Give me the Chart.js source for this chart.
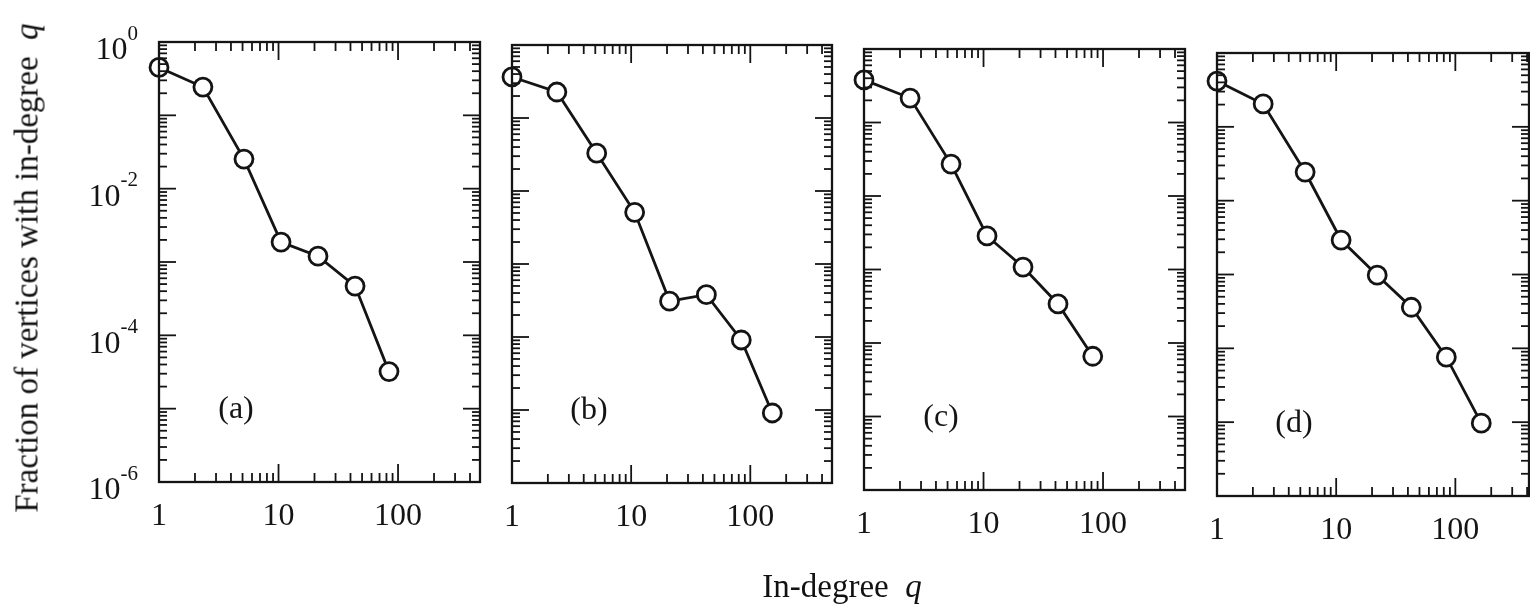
<!DOCTYPE html>
<html>
<head>
<meta charset="utf-8">
<script src="https://cdn.jsdelivr.net/npm/chart.js@4.4.1/dist/chart.umd.min.js"></script>
<style>
html,body{margin:0;padding:0;background:#fff;width:1530px;height:610px;overflow:hidden;}
canvas{position:absolute;left:0;top:0;}
.ytitle{position:absolute;left:27px;top:268px;transform:translate(-50%,-50%) rotate(-90deg);font:33px "Liberation Serif",serif;color:#111;white-space:nowrap;}
.xtitle{position:absolute;left:842px;top:586px;transform:translate(-50%,-50%);font:33px "Liberation Serif",serif;color:#111;white-space:nowrap;}
</style>
</head>
<body>
<canvas id="pa" width="1530" height="610"></canvas>
<canvas id="pb" width="1530" height="610"></canvas>
<canvas id="pc" width="1530" height="610"></canvas>
<canvas id="pd" width="1530" height="610"></canvas>
<div class="ytitle">Fraction of vertices with in-degree&nbsp;&nbsp;<i>q</i></div>
<div class="xtitle">In-degree&nbsp;&nbsp;<i>q</i></div>
<script>
// ---- data ----
const panelLabels = ['(a)', '(b)', '(c)', '(d)'];

const degreesA   = [1, 2.33, 5.14, 10.5, 21.4, 43.7, 84];
const fractionsA = [0.45, 0.243, 0.0253, 1.87e-3, 1.2e-3, 4.7e-4, 3.2e-5];

const degreesB   = [1, 2.38, 5.14, 10.7, 21, 42.8, 84, 153];
const fractionsB = [0.365, 0.227, 0.033, 5.1e-3, 3.1e-4, 3.8e-4, 9.1e-5, 9.1e-6];

const degreesC   = [1, 2.43, 5.35, 10.7, 21.4, 42, 82];
const fractionsC = [0.38, 0.215, 0.0272, 2.86e-3, 1.08e-3, 3.4e-4, 6.6e-5];

const degreesD   = [1, 2.44, 5.49, 11, 22.1, 42.7, 84, 165];
const fractionsD = [0.417, 0.204, 0.0244, 2.93e-3, 9.8e-4, 3.6e-4, 7.6e-5, 9.7e-6];

const xTickValues = [1, 10, 100];
const xTickLabels = ['1', '10', '100'];
const yTickExponents = [0, -2, -4, -6];   // labels 10^0, 10^-2, 10^-4, 10^-6

// ---- layout (pixel boxes of each panel frame) ----
const W = 1530, H = 610;
const boxes = [
  {left:159,  top:42, right:480,  bottom:482, xmax:485},
  {left:512,  top:45, right:832,  bottom:483, xmax:485},
  {left:864,  top:49, right:1185, bottom:490, xmax:485},
  {left:1217, top:53, right:1529, bottom:496, xmax:415}
];
const series = [[degreesA, fractionsA], [degreesB, fractionsB], [degreesC, fractionsC], [degreesD, fractionsD]];
const ids = ['pa', 'pb', 'pc', 'pd'];
const INK = '#141414';
const FONT = '"Liberation Serif", serif';

function axesPlugin(idx, xmax) {
  return {
    id: 'frameTicks' + idx,
    afterDraw(chart) {
      const ctx = chart.ctx, xs = chart.scales.x, ys = chart.scales.y, a = chart.chartArea;
      ctx.save();
      ctx.strokeStyle = INK;
      ctx.lineCap = 'butt';
      // frame
      ctx.lineWidth = 2.3;
      ctx.strokeRect(a.left, a.top, a.right - a.left, a.bottom - a.top);
      ctx.lineWidth = 1.8;
      const seg = (x1, y1, x2, y2) => { ctx.beginPath(); ctx.moveTo(x1, y1); ctx.lineTo(x2, y2); ctx.stroke(); };
      // x ticks (bottom & top, inward)
      for (let d = 0; d <= 3; d++) {
        for (let k = 1; k <= 9; k++) {
          const v = k * Math.pow(10, d);
          if (v <= 1.0001 || v >= xmax) continue;
          const px = xs.getPixelForValue(v);
          const len = k === 1 ? 18 : 9;
          seg(px, a.bottom, px, a.bottom - len);
          seg(px, a.top, px, a.top + len);
        }
      }
      // y ticks (left & right, inward)
      for (let e = -6; e < 0; e++) {
        for (let k = 1; k <= 9; k++) {
          const v = k * Math.pow(10, e);
          if (v <= 1.0001e-6) continue;
          const py = ys.getPixelForValue(v);
          const len = k === 1 ? 17 : 8;
          seg(a.left, py, a.left + len, py);
          seg(a.right, py, a.right - len, py);
        }
      }
      // x tick labels
      ctx.fillStyle = INK;
      ctx.font = '32px ' + FONT;
      ctx.textAlign = 'center';
      ctx.textBaseline = 'middle';
      xTickValues.forEach((v, i) => {
        if (v > xmax) return;
        ctx.fillText(xTickLabels[i], xs.getPixelForValue(v), a.bottom + 35);
      });
      // y tick labels only on the first panel
      if (idx === 0) {
        yTickExponents.forEach(ex => {
          const py = ys.getPixelForValue(Math.pow(10, ex));
          ctx.font = '32px ' + FONT;
          const wBase = ctx.measureText('10').width;
          const sup = String(ex);
          ctx.font = '21px ' + FONT;
          const wSup = ctx.measureText(sup).width;
          const right = a.left - 21;
          const x0 = right - wSup - wBase;
          ctx.textAlign = 'left';
          ctx.textBaseline = 'middle';
          ctx.font = '32px ' + FONT;
          ctx.fillText('10', x0, py + 9);
          ctx.font = '21px ' + FONT;
          ctx.fillText(sup, x0 + wBase, py - 8);
        });
      }
      // panel label
      ctx.font = '32px ' + FONT;
      ctx.textAlign = 'center';
      ctx.textBaseline = 'middle';
      ctx.fillText(panelLabels[idx], a.left + 77, a.bottom - 72);
      ctx.restore();
    }
  };
}

boxes.forEach((b, i) => {
  const [xs, ys] = series[i];
  new Chart(document.getElementById(ids[i]).getContext('2d'), {
    type: 'line',
    data: {
      datasets: [{
        data: xs.map((x, j) => ({x: x, y: ys[j]})),
        borderColor: INK,
        borderWidth: 2.8,
        pointRadius: 9,
        pointBorderWidth: 2.8,
        pointBackgroundColor: '#fff',
        pointBorderColor: INK,
        tension: 0,
        clip: false,
        fill: false
      }]
    },
    options: {
      responsive: false,
      animation: false,
      events: [],
      layout: {autoPadding: false, padding: {left: b.left, top: b.top, right: W - b.right, bottom: H - b.bottom}},
      plugins: {legend: {display: false}, tooltip: {enabled: false}},
      scales: {
        x: {type: 'logarithmic', min: 1, max: b.xmax, display: false},
        y: {type: 'logarithmic', min: 1e-6, max: 1, display: false}
      }
    },
    plugins: [axesPlugin(i, b.xmax)]
  });
});
</script>
</body>
</html>
